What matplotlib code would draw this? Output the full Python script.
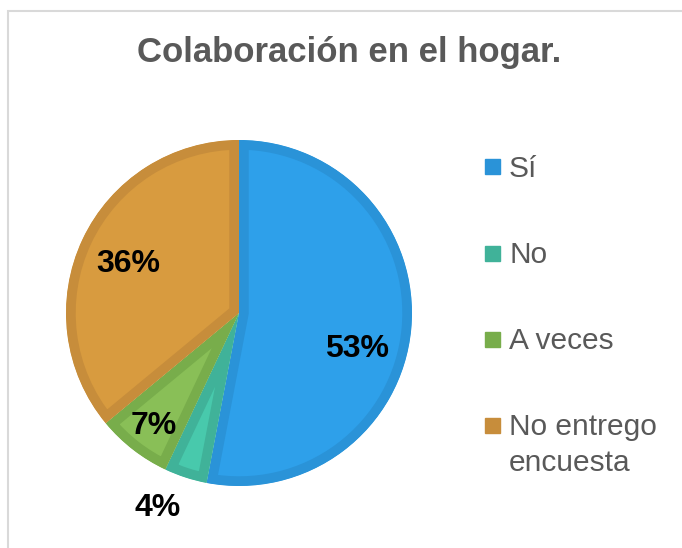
import numpy as np
import matplotlib
matplotlib.use("Agg")
import matplotlib.pyplot as plt
from matplotlib.patches import Rectangle

plt.rcParams['font.family'] = ['Liberation Sans', 'DejaVu Sans']

# datos
titulo = "Colaboración en el hogar."
categorias = ["Sí", "No", "A veces", "No entrego\nencuesta"]
porcentajes = [53, 4, 7, 36]

# estilo
colores = ["#2EA0EA", "#48C9AC", "#89BF57", "#D89B3F"]
bordes = ["#2A93D8", "#40B299", "#78AD4B", "#C78D3B"]
dist_etiqueta = [0.71, 1.20, 0.80, 0.71]   # distancia al centro (radio = 1)
giro_etiqueta = [-10, -5, 0, 0]            # grados

W, H = 682, 548
fig = plt.figure(figsize=(W / 100, H / 100), dpi=100)
fig.patch.set_facecolor("white")

# marco gris del grafico
fig.add_artist(Rectangle((8 / W, -0.1), 1.2, 1 - 11 / H + 0.1, transform=fig.transFigure,
                         fill=False, edgecolor="#D9D9D9", lw=1.5))

fig.text(349 / W, 1 - 62 / H, titulo, ha="center", va="baseline",
         fontsize=25, fontweight="bold", color="#595959")

# pastel
ax = fig.add_axes([66 / W, 1 - 486 / H, 346 / W, 346 / H])
wedges, _ = ax.pie(porcentajes, colors=colores, startangle=90, counterclock=False, radius=1)
ax.set_xlim(-1, 1)
ax.set_ylim(-1, 1)
ax.set_aspect("equal")

for w, b in zip(wedges, bordes):
    w.set_edgecolor(b)
    w.set_linewidth(14)
    w.set_clip_path(w)   # el borde queda solo por dentro
    w.set_clip_on(True)

for w, p, d, g in zip(wedges, porcentajes, dist_etiqueta, giro_etiqueta):
    ang = np.deg2rad((w.theta1 + w.theta2) / 2 + g)
    ax.text(d * np.cos(ang), d * np.sin(ang), f"{p}%", ha="center", va="center_baseline",
            fontsize=23, fontweight="bold", color="black")

# leyenda a mano
y0 = 167
paso = 86
interlinea = 36
for i, (cat, b) in enumerate(zip(categorias, bordes)):
    yc = y0 + i * paso
    fig.add_artist(Rectangle((485 / W, 1 - (yc + 7.5) / H), 15 / W, 15 / H,
                             transform=fig.transFigure, color=b))
    for j, linea in enumerate(cat.split("\n")):
        fig.text(509 / W, 1 - (yc + 10 + j * interlinea) / H, linea, ha="left", va="baseline",
                 fontsize=21.5, color="#595959")

fig.savefig("out.png", dpi=100)
